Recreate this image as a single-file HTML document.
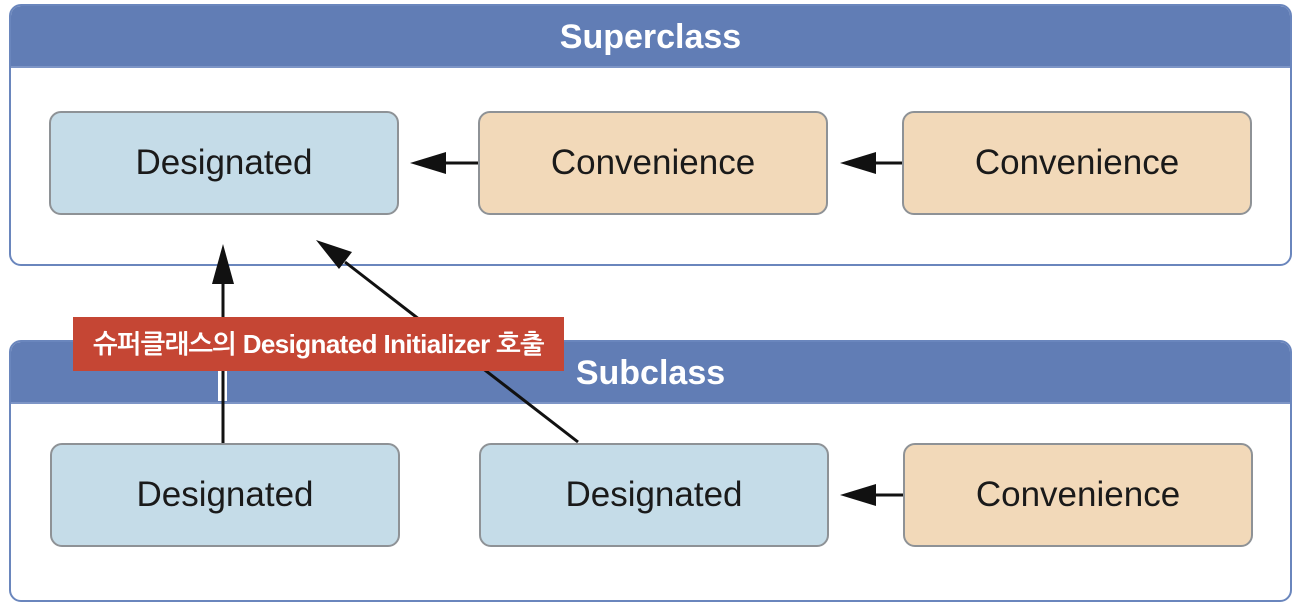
<!DOCTYPE html>
<html><head><meta charset="utf-8"><style>
body{margin:0;width:1300px;height:606px;background:#fff;position:relative;overflow:hidden;font-family:"Liberation Sans","NanumGothic",sans-serif}
.grp{position:absolute;border:2px solid #6a86bd;border-radius:12px;background:#fff;overflow:hidden;box-sizing:border-box}
.hd{background:#617db5;height:60px;color:#fff;font-weight:bold;font-size:34px;text-align:center;line-height:62px;border-bottom:2px solid #7d95c6}
.n{position:absolute;box-sizing:border-box;border:2px solid #8e9296;border-radius:12px;font-size:35px;color:#1a1a1a;display:flex;align-items:center;justify-content:center;width:350px;height:104px}
.d{background:#c5dce8}.c{background:#f2d9b9}
svg{position:absolute;left:0;top:0}
.lbl{position:absolute;left:73px;top:317px;width:491px;height:54px;background:#c54634;color:#fff;font-weight:bold;font-size:26px;line-height:54px;text-align:center;letter-spacing:-0.6px}
</style></head><body>
<div class="grp" style="left:9px;top:4px;width:1283px;height:262px"><div class="hd">Superclass</div></div>
<div class="grp" style="left:9px;top:340px;width:1283px;height:262px"><div class="hd">Subclass</div></div>
<div style="position:absolute;left:218px;top:341px;width:9px;height:60px;background:#fff"></div>
<div class="n d" style="left:49px;top:111px">Designated</div>
<div class="n c" style="left:478px;top:111px">Convenience</div>
<div class="n c" style="left:902px;top:111px">Convenience</div>
<div class="n d" style="left:50px;top:443px">Designated</div>
<div class="n d" style="left:479px;top:443px">Designated</div>
<div class="n c" style="left:903px;top:443px">Convenience</div>
<svg width="1300" height="606">
<g stroke="#111" stroke-width="3" fill="none">
<line x1="478" y1="163" x2="440" y2="163"/>
<line x1="902" y1="163" x2="870" y2="163"/>
<line x1="903" y1="495" x2="870" y2="495"/>
<line x1="223" y1="443" x2="223" y2="280"/>
<line x1="578" y1="442" x2="345" y2="262"/>
</g>
<g fill="#111">
<path d="M410,163L446,152L446,174z"/>
<path d="M840,163L876,152L876,174z"/>
<path d="M840,495L876,484L876,506z"/>
<path d="M223,244L212,284L234,284z"/>
<path d="M316,240L352,252L339,269z"/>
</g>
</svg>
<div class="lbl">슈퍼클래스의 Designated Initializer 호출</div>
</body></html>
